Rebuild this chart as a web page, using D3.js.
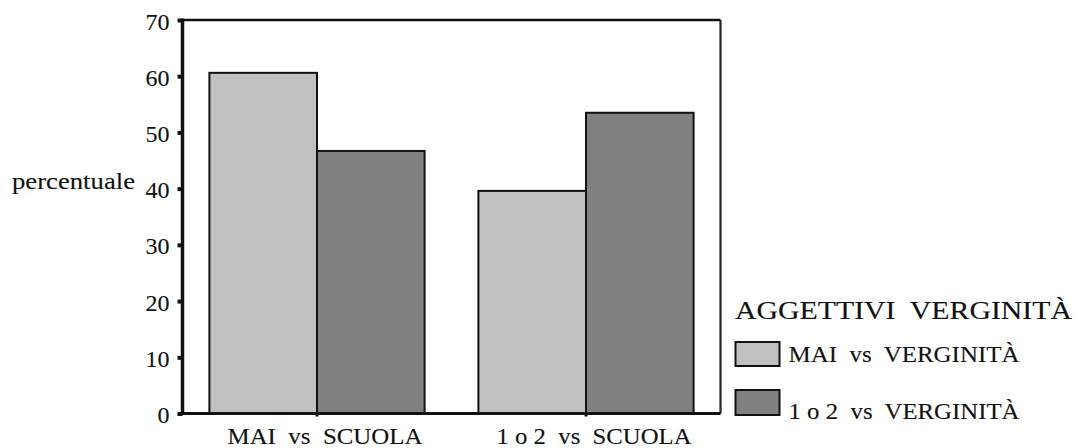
<!DOCTYPE html>
<html>
<head>
<meta charset="utf-8">
<script src="https://cdn.jsdelivr.net/npm/d3@7"></script>
<style>
  html, body { margin: 0; padding: 0; background: #fff; }
  svg { display: block; }
  svg text { font-family: "Liberation Serif", "DejaVu Serif", serif !important; fill: #111; stroke: #111; stroke-width: 0.12px; white-space: pre; }
</style>
</head>
<body>
<svg id="chart" width="1077" height="448"></svg>
<script>
// Groups on the x axis
const categories = ["MAI  vs  SCUOLA", "1 o 2  vs  SCUOLA"];
// Series (legend entries)
const seriesNames = ["MAI  vs  VERGINITÀ", "1 o 2  vs  VERGINITÀ"];
// Percent values per series, one per category
const maiVsVerginita = [60.6, 39.6];
const unoODueVsVerginita = [46.7, 53.5];
const seriesValues = [maiVsVerginita, unoODueVsVerginita];
// Y axis ticks
const yTicks = [0, 10, 20, 30, 40, 50, 60, 70];
const yTitle = "percentuale";
const legendTitle = "AGGETTIVI  VERGINITÀ";

const colors = ["#c0c0c0", "#808080"];
const serif = "Liberation Serif, DejaVu Serif, serif";

const svg = d3.select("#chart");

const plot = { left: 182.5, right: 720.5, top: 20, bottom: 413.5 };

const x0 = d3.scaleBand()
  .domain(categories)
  .range([plot.left, plot.right])
  .paddingInner(0.2)
  .paddingOuter(0.1);

const x1 = d3.scaleBand()
  .domain(d3.range(seriesNames.length))
  .range([0, x0.bandwidth()])
  .padding(0);

const y = d3.scaleLinear()
  .domain([0, 70])
  .range([plot.bottom, plot.top]);

// Frame: top and right edges
svg.append("line")
  .attr("x1", plot.left).attr("x2", plot.right)
  .attr("y1", y(70)).attr("y2", y(70))
  .attr("stroke", "#111").attr("stroke-width", 2.5);
svg.append("line")
  .attr("x1", plot.right).attr("x2", plot.right)
  .attr("y1", y(70)).attr("y2", y(0))
  .attr("stroke", "#222").attr("stroke-width", 2.2);

// Bars
const groups = svg.append("g").selectAll("g")
  .data(categories)
  .join("g")
  .attr("transform", d => `translate(${x0(d)},0)`);

groups.selectAll("rect")
  .data((d, i) => seriesValues.map((vals, s) => ({ s, v: vals[i] })))
  .join("rect")
  .attr("x", d => x1(d.s))
  .attr("width", x1.bandwidth())
  .attr("y", d => y(d.v))
  .attr("height", d => y(0) - y(d.v))
  .attr("fill", d => colors[d.s])
  .attr("stroke", "#111")
  .attr("stroke-width", 2);

// Y axis
const yAxis = svg.append("g")
  .attr("transform", `translate(${plot.left},0)`)
  .call(d3.axisLeft(y).tickValues(yTicks).tickSize(5).tickPadding(8).tickFormat(d3.format("d")));
yAxis.attr("font-family", serif);
yAxis.select(".domain").remove();
yAxis.selectAll(".tick line").attr("stroke", "#111").attr("stroke-width", 4);
yAxis.selectAll(".tick text")
  .attr("dy", null)
  .attr("y", 9)
  .attr("font-size", 24)
  .attr("font-family", serif)
  .attr("fill", "#111");
svg.append("line")
  .attr("x1", plot.left).attr("x2", plot.left)
  .attr("y1", y(70) - 1.5).attr("y2", y(0) + 1.5)
  .attr("stroke", "#111").attr("stroke-width", 3.5);

// X axis
const xAxis = svg.append("g")
  .attr("transform", `translate(0,${plot.bottom})`)
  .call(d3.axisBottom(x0).tickSize(3).tickPadding(0).tickFormat(""));
xAxis.select(".domain").remove();
xAxis.selectAll(".tick line").attr("stroke", "#111").attr("stroke-width", 3);
svg.append("line")
  .attr("x1", plot.left).attr("x2", plot.right)
  .attr("y1", plot.bottom).attr("y2", plot.bottom)
  .attr("stroke", "#111").attr("stroke-width", 3);

// Category labels
svg.append("g").selectAll("text")
  .data(categories)
  .join("text")
  .attr("x", d => x0(d) + x0.bandwidth() / 2 + 8)
  .attr("y", 444)
  .attr("text-anchor", "middle")
  .attr("font-family", serif)
  .attr("font-size", 24)
  .attr("textLength", 195)
  .attr("lengthAdjust", "spacingAndGlyphs")
  .text(d => d);

// Y axis title
svg.append("text")
  .attr("x", 12)
  .attr("y", 188.5)
  .attr("font-family", serif)
  .attr("font-size", 23)
  .attr("textLength", 123)
  .attr("lengthAdjust", "spacingAndGlyphs")
  .text(yTitle);

// Legend
const legend = svg.append("g");
legend.append("text")
  .attr("x", 735)
  .attr("y", 318.5)
  .attr("font-family", serif)
  .attr("font-size", 25)
  .attr("textLength", 337)
  .attr("lengthAdjust", "spacingAndGlyphs")
  .text(legendTitle);

const legendRows = [
  { sy: 342, sh: 24, ty: 362 },
  { sy: 390, sh: 25, ty: 418.5 }
];
seriesNames.forEach((name, i) => {
  legend.append("rect")
    .attr("x", 735.5).attr("y", legendRows[i].sy)
    .attr("width", 44).attr("height", legendRows[i].sh)
    .attr("fill", colors[i])
    .attr("stroke", "#111").attr("stroke-width", 2);
  legend.append("text")
    .attr("x", 788.5)
    .attr("y", legendRows[i].ty)
    .attr("font-family", serif)
    .attr("font-size", 23.5)
    .attr("textLength", 231)
    .attr("lengthAdjust", "spacingAndGlyphs")
    .text(name);
});
</script>
</body>
</html>
